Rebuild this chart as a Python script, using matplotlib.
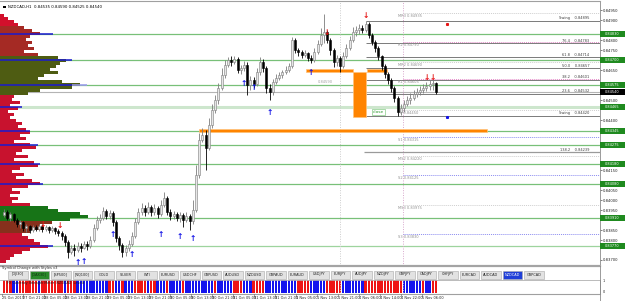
import numpy as np
import matplotlib
matplotlib.use("Agg")
import matplotlib.pyplot as plt
from matplotlib.patches import Rectangle
import matplotlib.transforms as mtrans

# ---- data ----
title = "NZDCAD,H1  0.84535 0.84590 0.84525 0.84540"
first_open = 0.83925
closes = [
    0.83940, 0.83910, 0.83930, 0.83900, 0.83880, 0.83890, 0.83860, 0.83870, 0.83850, 0.83865,
    0.83855, 0.83870, 0.83855, 0.83865, 0.83850, 0.83860, 0.83845, 0.83835, 0.83820, 0.83790,
    0.83740, 0.83760, 0.83750, 0.83770, 0.83760, 0.83780, 0.83770, 0.83800, 0.83860, 0.83900,
    0.83910, 0.83945, 0.83920, 0.83935, 0.83890, 0.83810, 0.83775, 0.83740, 0.83760, 0.83780,
    0.83820, 0.83890, 0.83940, 0.83960, 0.83940, 0.83965, 0.83940, 0.83960, 0.83930, 0.83975,
    0.84010, 0.83940, 0.83920, 0.83930, 0.83910, 0.83925, 0.83900, 0.83920, 0.83895, 0.83950,
    0.84125, 0.84300, 0.84325, 0.84260, 0.84375, 0.84450, 0.84500, 0.84560, 0.84625, 0.84675,
    0.84700, 0.84690, 0.84705, 0.84650, 0.84660, 0.84675, 0.84575, 0.84600, 0.84580, 0.84640,
    0.84690, 0.84660, 0.84560, 0.84540, 0.84590, 0.84610, 0.84625, 0.84640, 0.84650, 0.84670,
    0.84800, 0.84750, 0.84740, 0.84725, 0.84735, 0.84710, 0.84700, 0.84740, 0.84780, 0.84825,
    0.84840, 0.84800, 0.84750, 0.84690, 0.84710, 0.84670, 0.84720, 0.84760, 0.84800, 0.84840,
    0.84850, 0.84860, 0.84850, 0.84880, 0.84825, 0.84790, 0.84760, 0.84720, 0.84670, 0.84630,
    0.84600, 0.84560, 0.84510, 0.84440, 0.84460, 0.84480, 0.84500, 0.84510, 0.84530, 0.84540,
    0.84550, 0.84560, 0.84570, 0.84580, 0.84585, 0.84540]
highs = [
    0.83955, 0.83950, 0.83940, 0.83935, 0.83910, 0.83900, 0.83895, 0.83880, 0.83875, 0.83875,
    0.83875, 0.83880, 0.83880, 0.83875, 0.83870, 0.83870, 0.83865, 0.83855, 0.83845, 0.83830,
    0.83800, 0.83775, 0.83780, 0.83790, 0.83785, 0.83795, 0.83795, 0.83820, 0.83880, 0.83920,
    0.83930, 0.83965, 0.83955, 0.83950, 0.83945, 0.83900, 0.83820, 0.83785, 0.83775, 0.83800,
    0.83840, 0.83910, 0.83960, 0.83985, 0.83975, 0.83990, 0.83975, 0.83980, 0.83970, 0.84000,
    0.84040, 0.84020, 0.83955, 0.83945, 0.83940, 0.83940, 0.83935, 0.83940, 0.83930, 0.84000,
    0.84175, 0.84335, 0.84360, 0.84350, 0.84410, 0.84480, 0.84525, 0.84585, 0.84660, 0.84700,
    0.84715, 0.84720, 0.84720, 0.84715, 0.84675, 0.84695, 0.84690, 0.84620, 0.84615, 0.84660,
    0.84715, 0.84705, 0.84670, 0.84580, 0.84605, 0.84630, 0.84640, 0.84650, 0.84670, 0.84685,
    0.84815, 0.84810, 0.84760, 0.84750, 0.84750, 0.84740, 0.84725, 0.84760, 0.84800, 0.84860,
    0.84930, 0.84850, 0.84810, 0.84760, 0.84725, 0.84720, 0.84740, 0.84780, 0.84820, 0.84865,
    0.84870, 0.84880, 0.84875, 0.84895, 0.84890, 0.84835, 0.84800, 0.84770, 0.84725, 0.84680,
    0.84640, 0.84610, 0.84570, 0.84520, 0.84480, 0.84500, 0.84520, 0.84535, 0.84550, 0.84560,
    0.84570, 0.84580, 0.84590, 0.84600, 0.84600, 0.84590]
lows = [
    0.83915, 0.83900, 0.83895, 0.83890, 0.83865, 0.83860, 0.83845, 0.83840, 0.83835, 0.83840,
    0.83845, 0.83845, 0.83840, 0.83845, 0.83835, 0.83840, 0.83830, 0.83820, 0.83800, 0.83770,
    0.83710, 0.83730, 0.83720, 0.83740, 0.83740, 0.83755, 0.83750, 0.83760, 0.83790, 0.83850,
    0.83885, 0.83900, 0.83905, 0.83905, 0.83870, 0.83790, 0.83750, 0.83715, 0.83720, 0.83745,
    0.83770, 0.83810, 0.83880, 0.83925, 0.83920, 0.83930, 0.83920, 0.83925, 0.83910, 0.83920,
    0.83965, 0.83925, 0.83900, 0.83905, 0.83895, 0.83890, 0.83865, 0.83890, 0.83850, 0.83880,
    0.83940, 0.84110, 0.84290, 0.84150, 0.84250, 0.84360, 0.84435, 0.84480, 0.84550, 0.84610,
    0.84665, 0.84670, 0.84680, 0.84635, 0.84630, 0.84645, 0.84525, 0.84550, 0.84560, 0.84570,
    0.84625, 0.84640, 0.84535, 0.84500, 0.84525, 0.84580, 0.84600, 0.84610, 0.84630, 0.84640,
    0.84660, 0.84735, 0.84720, 0.84710, 0.84715, 0.84695, 0.84685, 0.84690, 0.84730, 0.84770,
    0.84785, 0.84785, 0.84725, 0.84665, 0.84670, 0.84640, 0.84660, 0.84710, 0.84750, 0.84790,
    0.84820, 0.84830, 0.84835, 0.84840, 0.84810, 0.84775, 0.84740, 0.84700, 0.84650, 0.84610,
    0.84580, 0.84540, 0.84490, 0.84420, 0.84425, 0.84440, 0.84470, 0.84480, 0.84500, 0.84515,
    0.84525, 0.84535, 0.84545, 0.84550, 0.84550, 0.84530]

# horizontal S/R lines
green_levels = [0.84830, 0.84700, 0.84575, 0.84465, 0.84345, 0.84275, 0.84180, 0.84080, 0.83910, 0.83770]

# volume profile (top bin 0.84930, step 0.00015 down)
profile_top = 0.84930
profile_step = 0.00015
profile_vol = [4, 8, 14, 18, 24, 32, 40, 30, 26, 32,
               28, 34, 24, 38, 58, 66, 60, 56, 50, 58,
               44, 38, 62, 80, 72, 40, 28, 14, 12, 20,
               10, 18, 8, 14, 10, 16, 22, 18, 26, 30,
               20, 26, 14, 30, 36, 22, 16, 28, 14, 34,
               38, 20, 12, 24, 16, 32, 40, 28, 12, 20,
               10, 18, 12, 30, 48, 58, 80, 88, 70, 52,
               40, 44, 30, 22, 28, 34, 40, 48, 30, 22,
               14, 10, 6]
profile_zones = [(0, 3, "#d2102c"), (4, 13, "#a52a24"), (14, 26, "#4e5c12"),
                 (27, 63, "#c8122e"), (64, 68, "#177417"), (69, 72, "#86301c"), (73, 82, "#c8122e")]
prof_line_price = [0.84830, 0.84700, 0.84575, 0.84465, 0.84345, 0.84275, 0.84180, 0.84080, 0.83770]
prof_line_vol = [53, 72, 72, 22, 30, 38, 40, 43, 53]

# pivots
pivot_names = ["MR3", "R2", "MR2", "R1", "PP", "S1", "MS2", "S2", "MS3", "S3"]
pivot_prices = [0.84935, 0.84790, 0.84690, 0.84605, 0.84450, 0.84315, 0.84220, 0.84125, 0.83975, 0.83830]
pivot_start = 124.7

# fibonacci from swing high / low candles
swing_hi_bar, swing_lo_bar = 113, 123
fib_ratios = [0.236, 0.382, 0.5, 0.618, 0.764]

# arrows (candle index, price)
up_idx = [23, 25, 34, 40, 49, 55, 59, 75, 78, 83, 96]
up_price = [0.83685, 0.83690, 0.83825, 0.83725, 0.83825, 0.83815, 0.83805, 0.84580, 0.84560, 0.84435, 0.84635]
dn_idx = [12, 17.5, 101, 113, 132, 134]
dn_price = [0.83875, 0.83870, 0.84835, 0.84920, 0.84610, 0.84610]

# orange supply/demand boxes (x0, x1, p0, p1)
orange_boxes = [(60.9, 150.9, 0.84340, 0.84355), (94.4, 109.0, 0.84640, 0.84655),
                (113.4, 119.7, 0.84640, 0.84655), (109.0, 113.1, 0.84415, 0.84640)]

# currency strength stripes per candle
strength = ("RRRBBRRRRRRB" "RRRRRR" "RBRRR" "BBBBBBBBBB" "RR" "BBRBBB" "RRRRBRR"
            "BBBRBBBBRB" "BBBB" "BBBBRBBBBB" "RRR" "BBB" "RRRR" "BBBBBBBBBB" "RRRR"
            "BBBBB" "RRRRR" "BBBBBBB" "RRRRRRRRRRRR" "BBBBBB" "RBBRR")

buttons = ["[DJI30]", "[DAX30]", "[SP500]", "[NQ100]", "GOLD", "SILVER", "WTI", "EURUSD", "USDCHF",
           "GBPUSD", "AUDUSD", "NZDUSD", "GBPAUD", "EURAUD", "USDJPY", "EURJPY", "AUDJPY", "NZDJPY",
           "GBPJPY", "CADJPY", "CHFJPY", "EURCAD", "AUDCAD", "NZDCAD", "GBPCAD"]

time_labels = ["25 Oct 2019", "27 Oct 21:00", "28 Oct 05:00", "28 Oct 13:00", "28 Oct 21:00",
               "29 Oct 05:00", "29 Oct 13:00", "29 Oct 21:00", "30 Oct 05:00", "30 Oct 13:00",
               "30 Oct 21:00", "31 Oct 05:00", "31 Oct 13:00", "31 Oct 21:00", "1 Nov 05:00",
               "1 Nov 13:00", "1 Nov 21:00", "4 Nov 06:00", "4 Nov 14:00", "4 Nov 22:00", "5 Nov 06:00"]

# ---- layout ----
W, H = 625, 301
XL = (-1.25, 186.25)
YL = (0.83670, 0.84995)


def box(x0, y0, x1, y1):
    return [x0 / W, 1 - y1 / H, (x1 - x0) / W, (y1 - y0) / H]


fig = plt.figure(figsize=(6.25, 3.01), dpi=100)
fig.patch.set_facecolor("white")

ax = fig.add_axes(box(0, 1, 600, 266))
ax.set_xlim(*XL)
ax.set_ylim(*YL)
ax.patch.set_visible(False)

axp = ax.twiny()
axp.set_xlim(0, 600)
axp.set_zorder(ax.get_zorder() - 1)
axp.axis("off")

# green lines, profile, profile level lines
for k, p in enumerate(green_levels):
    if k == 3:
        axp.axhline(p, color="#cde6cd", lw=2.2, zorder=1)
    elif k == len(green_levels) - 1:
        axp.axhline(p, color="#9ed49e", lw=0.9, zorder=1)
    else:
        axp.axhline(p, color="#78c078", lw=0.9, zorder=1)
axp.axhline(closes[-1], color="#b4b4b4", lw=0.8, zorder=1)

levels = profile_top - profile_step * np.arange(len(profile_vol)) - profile_step / 2
cols = ["#c8122e"] * len(profile_vol)
for a, b, c in profile_zones:
    for k in range(a, b + 1):
        cols[k] = c
axp.barh(levels, profile_vol, height=profile_step, color=cols, left=0, zorder=2, linewidth=0)
for p, v in zip(prof_line_price, prof_line_vol):
    axp.hlines(p, 0, v, color="#1a1ad0", lw=1.1, zorder=3)
axp.hlines(prof_line_price[2], prof_line_vol[2], 87, color="#9a9af0", lw=1.1, zorder=3)

# pivots
for name, p in zip(pivot_names, pivot_prices):
    if name.startswith("R"):
        c = "#e48ac8"
    elif name.startswith("S"):
        c = "#8c8cf0"
    else:
        c = "#cfcfcf"
    ax.hlines(p, pivot_start, XL[1], color=c, lw=0.7, linestyles=(0, (1, 1)), zorder=2)
    ax.text(123, p - 0.00003, f"{name} {p:.5f}", fontsize=2.6, color="#909090",
            va="top", ha="left", zorder=3)

# fibonacci
fh, fl = highs[swing_hi_bar], lows[swing_lo_bar]
fib = [(fh, "Swing")] + [(fl + r * (fh - fl), f"{r * 100:.1f}") for r in fib_ratios[::-1]] + [(fl, "Swing")]
for p, lab in fib:
    ax.hlines(p, swing_hi_bar, XL[1], color="#7a7a7a", lw=0.7, zorder=2)
    ax.text(183, p + 0.00003, f"{lab}    {p:.5f}", fontsize=2.6, color="#404040",
            ha="right", va="bottom", zorder=3)
ext = fl - 0.382 * (fh - fl)
ax.hlines(ext, swing_hi_bar - 0.5, XL[1], color="#9a9a9a", lw=0.9, zorder=2)
ax.text(183, ext + 0.00003, f"138.2    {ext:.5f}", fontsize=2.6, color="#404040",
        ha="right", va="bottom", zorder=3)

# vertical dotted separators
ax.axvline(105, color="#cccccc", lw=0.7, ls=(0, (1, 1.5)), zorder=1)
ax.axvline(124.7, color="#d8a8cc", lw=0.7, ls=(0, (1, 1.5)), zorder=1)

# orange zones
for x0, x1, p0, p1 in orange_boxes:
    ax.add_patch(Rectangle((x0, p0), x1 - x0, p1 - p0, facecolor="#ff8400",
                           edgecolor="#ffc27a", lw=0.5, zorder=6))
ax.text(115.3, 0.84440, "close", fontsize=3.2, color="#2c9a2c", va="center", ha="left", zorder=7,
        bbox=dict(boxstyle="square,pad=0.15", fc="white", ec="#6cc06c", lw=0.4))
ax.text(98, 0.84590, "0.84590", fontsize=2.6, color="#a0a0a0", va="center", zorder=3)

# candles
opens = [first_open] + closes[:-1]
for i in range(len(closes)):
    o, c = opens[i], closes[i]
    up = c >= o
    ec = "#7c7c7c" if up else "#000000"
    ax.vlines(i, lows[i], highs[i], color=ec, lw=0.6, zorder=8)
    lo, hi = min(o, c), max(o, c)
    ax.add_patch(Rectangle((i - 0.33, lo), 0.66, max(hi - lo, 0.00002),
                           facecolor="#e6e6e6" if up else "#000000", edgecolor=ec, lw=0.4, zorder=9))

# arrows
for i, p in zip(up_idx, up_price):
    ax.text(i, p, "\u2191", color="#1414e6", fontsize=5.5, fontweight="bold",
            ha="center", va="center", zorder=10)
for i, p in zip(dn_idx, dn_price):
    ax.text(i, p, "\u2193", color="#e61414", fontsize=5.5, fontweight="bold",
            ha="center", va="center", zorder=10)
ax.plot([138.4], [0.84880], marker="s", ms=1.2, color="#e61414", zorder=10)
ax.plot([138.4], [0.84415], marker="s", ms=1.2, color="#1414e6", zorder=10)

# right price axis (skip ticks hidden by level boxes)
boxed = green_levels + [closes[-1]]
ax.yaxis.tick_right()
ticks = [t for t in np.arange(0.83700, 0.84951, 0.0005)
         if min(abs(t - b) for b in boxed) > 0.00028]
ax.set_yticks(ticks)
ax.set_yticklabels([f"{t:.5f}" for t in ticks], fontsize=2.7)
ax.tick_params(axis="y", length=1.5, width=0.4, pad=0.8, colors="#202020")
ax.set_xticks([])
ax.spines["left"].set_visible(False)
ax.spines["top"].set_color("#a0a0a0")
ax.spines["top"].set_linewidth(0.8)
ax.spines["right"].set_color("#8a8a8a")
ax.spines["right"].set_linewidth(0.6)
ax.spines["bottom"].set_color("#a4a4a4")
ax.spines["bottom"].set_linewidth(1.6)

bt = mtrans.blended_transform_factory(ax.transAxes, ax.transData)
for p in green_levels:
    ax.add_patch(Rectangle((1.0, p - 0.00015), 25 / 600, 0.0003, transform=bt, clip_on=False,
                           facecolor="#1f8a1f", edgecolor="none", zorder=20))
    ax.text(1.0 + 12.5 / 600, p, f"{p:.5f}", transform=bt, fontsize=2.5, color="white",
            ha="center", va="center", zorder=21, clip_on=False)
ax.add_patch(Rectangle((1.0, closes[-1] - 0.00015), 25 / 600, 0.0003, transform=bt, clip_on=False,
                       facecolor="black", edgecolor="none", zorder=20))
ax.text(1.0 + 12.5 / 600, closes[-1], f"{closes[-1]:.5f}", transform=bt, fontsize=2.5,
        color="white", ha="center", va="center", zorder=21, clip_on=False)

# strength sub-window
axs = fig.add_axes(box(0, 280, 600, 293))
axs.set_xlim(*XL)
axs.set_ylim(0, 1)
axs.bar(np.arange(len(strength)), 1, width=0.8, bottom=0,
        color=["#ee1414" if s == "R" else "#1414ee" for s in strength], linewidth=0)
axs.axvline(105, color="#cccccc", lw=0.7, ls=(0, (1, 1.5)))
axs.axvline(124.7, color="#d8a8cc", lw=0.7, ls=(0, (1, 1.5)))
axs.set_xticks([])
axs.set_yticks([])
for s in ["left", "top", "bottom"]:
    axs.spines[s].set_visible(False)
axs.spines["right"].set_color("#8a8a8a")
axs.spines["right"].set_linewidth(0.6)
axs.text(1, 0.8, "FX Currency Strength Meter  NZDCAD  Levels", fontsize=2.4, color="#202020",
         va="center", ha="left")

# overlay: title, buttons, separators, time axis
axo = fig.add_axes([0, 0, 1, 1])
axo.set_xlim(0, W)
axo.set_ylim(H, 0)
axo.axis("off")
axo.add_patch(Rectangle((2.5, 5.5), 3, 2.5, facecolor="black"))
axo.text(8, 7, title, fontsize=2.8, color="black", va="center", ha="left")
axo.text(2, 268.3, "Symbol Change with Styles v3", fontsize=2.6, color="#303030", va="center")
axo.plot([0, 600], [279.5, 279.5], color="#b0b0b0", lw=0.6)
axo.plot([0, 600], [293.5, 293.5], color="#a0a0a0", lw=0.8)
axo.plot([600, 600], [266, 301], color="#8a8a8a", lw=0.6)
for k, name in enumerate(buttons):
    x0 = 8 + 21.5 * k
    if name == "[DAX30]":
        fc, tc = "#2a8a2a", "#103010"
    elif name == "NZDCAD":
        fc, tc = "#1f3fd8", "white"
    else:
        fc, tc = "#e2e2e2", "#202020"
    axo.add_patch(Rectangle((x0, 270.5), 19.5, 8, facecolor=fc, edgecolor="#a8a8a8", lw=0.4))
    axo.text(x0 + 9.75, 274.5, name, fontsize=2.5, color=tc, ha="center", va="center")
for k, lab in enumerate(time_labels):
    x = 2 + 21 * k
    axo.plot([x, x], [293.5, 295.5], color="#606060", lw=0.4)
    axo.text(x, 297.6, lab, fontsize=2.5, color="#202020", ha="left", va="center")
axo.text(603, 281.5, "1", fontsize=2.5, color="#202020", va="center")
axo.text(603, 292, "0", fontsize=2.5, color="#202020", va="center")

fig.savefig("out.png", dpi=100, facecolor="white")
